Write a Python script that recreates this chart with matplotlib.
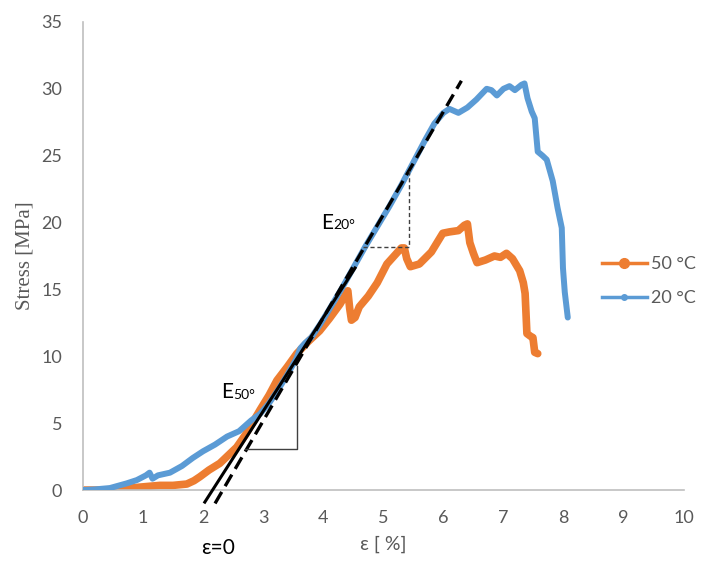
import numpy as np
import matplotlib
matplotlib.use("Agg")
import matplotlib.pyplot as plt
from matplotlib.lines import Line2D

# 20 °C curve (strain %, stress MPa)
strain_20 = [0.0, 0.2, 0.45, 0.73, 0.9, 1.05, 1.11, 1.16, 1.25, 1.45, 1.65, 1.83,
             2.0, 2.2, 2.4, 2.6, 2.8, 2.95, 3.1, 3.25, 3.4, 3.55, 3.62, 3.7, 3.8,
             3.95, 4.1, 4.3, 4.5, 4.7, 4.9, 5.1, 5.3, 5.5, 5.7, 5.85, 6.0, 6.1,
             6.25, 6.4, 6.55, 6.72, 6.8, 6.89, 7.0, 7.1, 7.19, 7.3, 7.35, 7.4,
             7.47, 7.52, 7.57, 7.65, 7.72, 7.82, 7.9, 7.97, 7.99, 8.02, 8.07]
stress_20 = [0.0, 0.05, 0.15, 0.5, 0.75, 1.1, 1.3, 0.85, 1.1, 1.3, 1.8, 2.4,
             2.9, 3.4, 4.0, 4.4, 5.2, 5.7, 6.5, 7.5, 8.6, 9.8, 10.6, 11.0, 11.4,
             12.4, 13.5, 15.0, 16.6, 18.2, 19.7, 21.2, 22.8, 24.5, 26.2, 27.4, 28.2, 28.5,
             28.2, 28.6, 29.2, 30.0, 29.9, 29.5, 30.0, 30.2, 29.9, 30.3, 30.4, 29.3,
             28.3, 27.8, 25.3, 25.0, 24.7, 23.1, 21.1, 19.6, 16.6, 14.8, 12.9]

# 50 °C curve
strain_50 = [0.0, 0.3, 0.6, 0.9, 1.28, 1.5, 1.73, 1.85, 1.95, 2.1, 2.28, 2.42,
             2.56, 2.7, 2.82, 2.95, 3.1, 3.23, 3.4, 3.56, 3.75, 3.94, 4.1, 4.28,
             4.41, 4.44, 4.47, 4.53, 4.6, 4.75, 4.9, 5.06, 5.2, 5.3, 5.35, 5.39,
             5.45, 5.6, 5.8, 5.99, 6.1, 6.25, 6.35, 6.4, 6.44, 6.5, 6.56, 6.7,
             6.85, 6.95, 7.05, 7.15, 7.27, 7.33, 7.36, 7.39, 7.45, 7.49, 7.52, 7.57]
stress_50 = [0.0, 0.0, 0.05, 0.2, 0.35, 0.35, 0.45, 0.7, 1.0, 1.5, 2.0, 2.6,
             3.2, 4.1, 5.0, 6.0, 7.1, 8.2, 9.2, 10.2, 11.1, 11.9, 12.8, 13.9,
             14.9, 13.6, 12.7, 12.9, 13.7, 14.5, 15.5, 16.9, 17.6, 18.1, 18.1, 17.3,
             16.7, 16.9, 17.8, 19.2, 19.3, 19.4, 19.8, 19.9, 18.5, 17.7, 17.0, 17.2,
             17.5, 17.4, 17.7, 17.3, 16.4, 15.5, 14.7, 11.7, 11.5, 11.4, 10.3, 10.2]

# modulus fit lines
fit_50_x = [2.03, 4.53]
fit_50_y = [-0.9, 16.6]
fit_20_x = [2.2, 6.3]
fit_20_y = [-1.0, 30.6]

# slope triangles
tri_50_x = [2.7, 3.56, 3.56]
tri_50_y = [3.1, 3.1, 9.3]
tri_20_x = [4.66, 5.42, 5.42]
tri_20_y = [18.2, 18.2, 24.1]

orange = "#ED7D31"
blue = "#5B9BD5"
grey = "#595959"

fig = plt.figure(figsize=(7.02, 5.62), dpi=100)
ax = fig.add_axes([0.118, 0.128, 0.856, 0.833])

ax.plot(strain_50, stress_50, color=orange, lw=5.5, solid_capstyle="round",
        solid_joinstyle="round", zorder=2)
ax.plot(strain_20, stress_20, color=blue, lw=4.3, solid_capstyle="round",
        solid_joinstyle="round", zorder=3)

ax.plot(fit_50_x, fit_50_y, color="black", lw=2.2, zorder=4, clip_on=False)
ax.plot(fit_20_x, fit_20_y, color="black", lw=2.4, ls=(0, (4, 2)), zorder=4, clip_on=False)
ax.plot(tri_50_x, tri_50_y, color="#404040", lw=1.0, zorder=4)
ax.plot(tri_20_x, tri_20_y, color="#404040", lw=1.0, ls=(0, (3, 2)), zorder=4)

# labels on the plot
ax.text(2.3, 7.3, "E", fontsize=15, family="Lato", color="black", va="center")
ax.text(2.5, 7.1, "50°", fontsize=10, family="Lato", color="black", va="center")
ax.text(3.96, 20.0, "E", fontsize=15, family="Lato", color="black", va="center")
ax.text(4.16, 19.8, "20°", fontsize=10, family="Lato", color="black", va="center")
ax.text(2.25, -4.3, "ε=0", fontsize=15, family="Lato", color="black",
        ha="center", va="center", clip_on=False)

ax.set_xlim(0, 10)
ax.set_ylim(0, 35)
ax.set_xticks(np.arange(0, 11, 1))
ax.set_yticks(np.arange(0, 36, 5))
ax.tick_params(length=0, labelsize=13, labelcolor=grey)
ax.tick_params(axis="x", pad=14)
ax.tick_params(axis="y", pad=15)
for lab in ax.get_xticklabels() + ax.get_yticklabels():
    lab.set_family("Lato")

for s in ["top", "right"]:
    ax.spines[s].set_visible(False)
for s in ["left", "bottom"]:
    ax.spines[s].set_color("#BFBFBF")
    ax.spines[s].set_linewidth(1.2)

ax.set_ylabel("Stress [MPa]", fontsize=15, family="Liberation Serif", color=grey, labelpad=5)
ax.set_xlabel("ε [ %]", fontsize=14, family="Lato", color=grey, labelpad=7)

handles = [
    Line2D([], [], color=orange, lw=2.5, marker="o", ms=7),
    Line2D([], [], color=blue, lw=2.5, marker="o", ms=4),
]
fig.legend(handles, ["50 °C", "20 °C"], loc="center left",
           bbox_to_anchor=(0.857, 0.5), frameon=False, handlelength=2.5,
           labelspacing=1.0, prop={"family": "Lato", "size": 13}, labelcolor=grey,
           handletextpad=0.25, borderaxespad=0, borderpad=0)

fig.savefig("out.png", dpi=100)
